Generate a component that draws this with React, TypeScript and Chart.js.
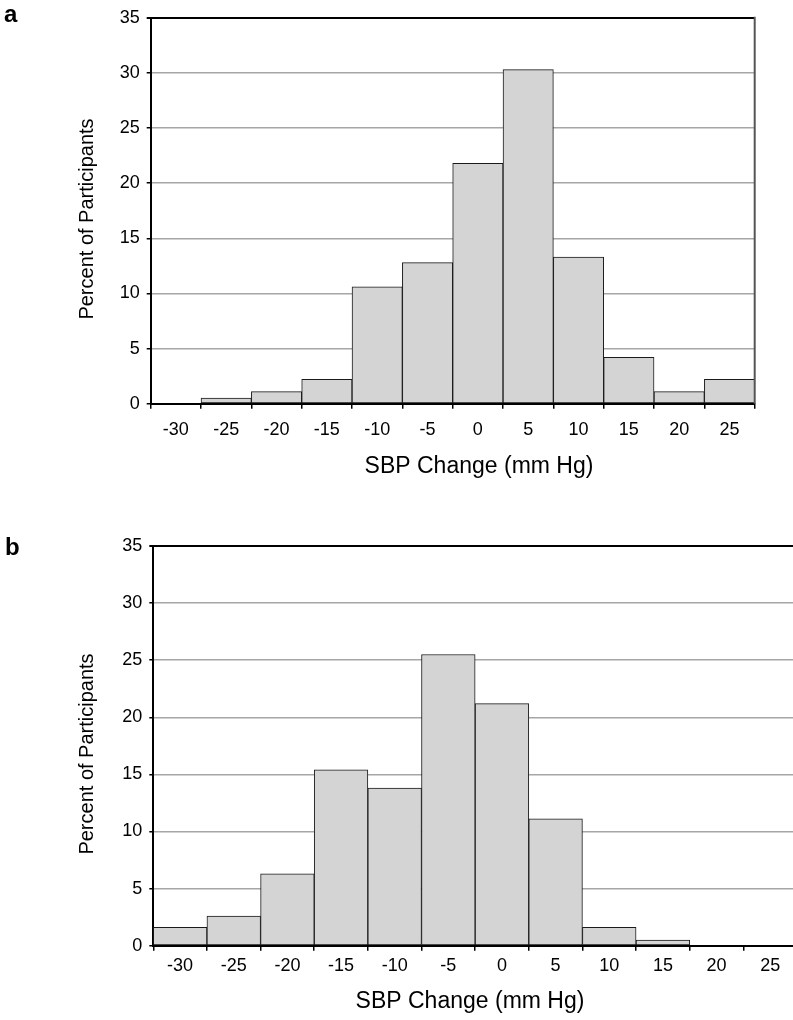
import React, { useEffect, useRef } from "react";
import { Chart, registerables } from "chart.js";

Chart.register(...registerables);

const binLabels = ["-30", "-25", "-20", "-15", "-10", "-5", "0", "5", "10", "15", "20", "25"];
const percentA = [0, 0.5, 1.1, 2.2, 10.6, 12.8, 21.8, 30.3, 13.3, 4.2, 1.1, 2.2];
const percentB = [1.6, 2.6, 6.3, 15.4, 13.8, 25.5, 21.2, 11.1, 1.6, 0.5, 0, 0];
const yTicks = [0, 5, 10, 15, 20, 25, 30, 35];
const xTitle = "SBP Change (mm Hg)";
const yTitle = "Percent of Participants";

const FONT = '"Liberation Sans", Arial, Helvetica, sans-serif';

const textPlugin = {
  id: "extraText",
  afterDraw(chart: any, _args: any, opts: any) {
    const ctx = chart.ctx as CanvasRenderingContext2D;
    const ca = chart.chartArea;
    ctx.save();
    // right border
    if (opts.rightBorder) {
      ctx.strokeStyle = "#555";
      ctx.lineWidth = 2;
      ctx.beginPath();
      ctx.moveTo(ca.right, ca.top - 1);
      ctx.lineTo(ca.right, ca.bottom);
      ctx.stroke();
    }
    ctx.fillStyle = "#000";
    ctx.textBaseline = "alphabetic";
    ctx.font = `bold 24px ${FONT}`;
    ctx.textAlign = "left";
    ctx.fillText(opts.panel, opts.panelX, opts.panelY);
    ctx.font = `23px ${FONT}`;
    ctx.textAlign = "center";
    ctx.fillText(opts.xTitle, opts.xTitleX, opts.xTitleY);
    ctx.translate(opts.yTitleX, opts.yTitleY);
    ctx.rotate(-Math.PI / 2);
    ctx.font = `20px ${FONT}`;
    ctx.fillText(opts.yTitle, 0, 0);
    ctx.restore();
  },
};

function makeConfig(data: number[], geo: any) {
  return {
    type: "bar" as const,
    data: {
      labels: binLabels,
      datasets: [
        {
          data,
          backgroundColor: "#d4d4d4",
          borderColor: "#1a1a1a",
          borderWidth: 1,
          borderSkipped: false,
          barPercentage: 1,
          categoryPercentage: 1,
        },
      ],
    },
    options: {
      responsive: false,
      animation: false as const,
      font: { family: FONT },
      layout: { padding: geo.padding },
      plugins: {
        legend: { display: false },
        tooltip: { enabled: false },
        extraText: geo.text,
      },
      scales: {
        x: {
          type: "category" as const,
          offset: true,
          grid: {
            offset: true,
            drawOnChartArea: false,
            drawTicks: true,
            tickLength: 5,
            color: "#000",
            lineWidth: 1.5,
          },
          border: { display: true, color: "#000", width: 2 },
          ticks: {
            color: "#000",
            font: { family: FONT, size: 18 },
            padding: geo.xTickPad,
            maxRotation: 0,
            autoSkip: false,
          },
          afterFit: (s: any) => {
            s.height = geo.xHeight;
          },
        },
        y: {
          min: 0,
          max: 35,
          afterBuildTicks: (s: any) => {
            s.ticks = yTicks.map((v) => ({ value: v }));
          },
          grid: {
            color: (c: any) => (c.tick && c.tick.value === 35 ? "#000" : "#a6a6a6"),
            lineWidth: (c: any) => (c.tick && c.tick.value === 35 ? 2 : 1.5),
            tickColor: "#000",
            tickLength: 4,
            drawTicks: true,
          },
          border: { display: true, color: "#000", width: 2 },
          ticks: {
            color: "#000",
            font: { family: FONT, size: 18 },
            padding: 7,
          },
          afterFit: (s: any) => {
            s.width = geo.yWidth;
          },
        },
      },
    },
    plugins: [textPlugin],
  };
}

const geoA = {
  padding: { left: 0, top: 17.7, right: 38.3, bottom: 0 },
  yWidth: 150.7,
  xHeight: 96.3,
  xTickPad: 11,
  text: {
    panel: "a",
    panelX: 4,
    panelY: 21.7,
    xTitle,
    xTitleX: 479,
    xTitleY: 473.3,
    yTitle,
    yTitleX: 93,
    yTitleY: 219,
    rightBorder: true,
  },
};

const geoB = {
  padding: { left: 0, top: 46, right: 3, bottom: 0 },
  yWidth: 153.3,
  xHeight: 74.3,
  xTickPad: 4.5,
  text: {
    panel: "b",
    panelX: 5,
    panelY: 55,
    xTitle,
    xTitleX: 470,
    xTitleY: 508.3,
    yTitle,
    yTitleX: 93,
    yTitleY: 254,
    rightBorder: true,
  },
};

export default function App() {
  const refA = useRef<HTMLCanvasElement>(null);
  const refB = useRef<HTMLCanvasElement>(null);

  useEffect(() => {
    document.body.style.margin = "0";
    document.body.style.overflow = "hidden";
    const a = new Chart(refA.current as HTMLCanvasElement, makeConfig(percentA, geoA) as any);
    const b = new Chart(refB.current as HTMLCanvasElement, makeConfig(percentB, geoB) as any);
    return () => {
      a.destroy();
      b.destroy();
    };
  }, []);

  return (
    <div style={{ position: "relative", width: 793, height: 1020, overflow: "hidden", background: "#fff" }}>
      <canvas ref={refA} width={793} height={500} style={{ position: "absolute", left: 0, top: 0, display: "block" }} />
      <canvas ref={refB} width={800} height={520} style={{ position: "absolute", left: 0, top: 500, display: "block" }} />
    </div>
  );
}
